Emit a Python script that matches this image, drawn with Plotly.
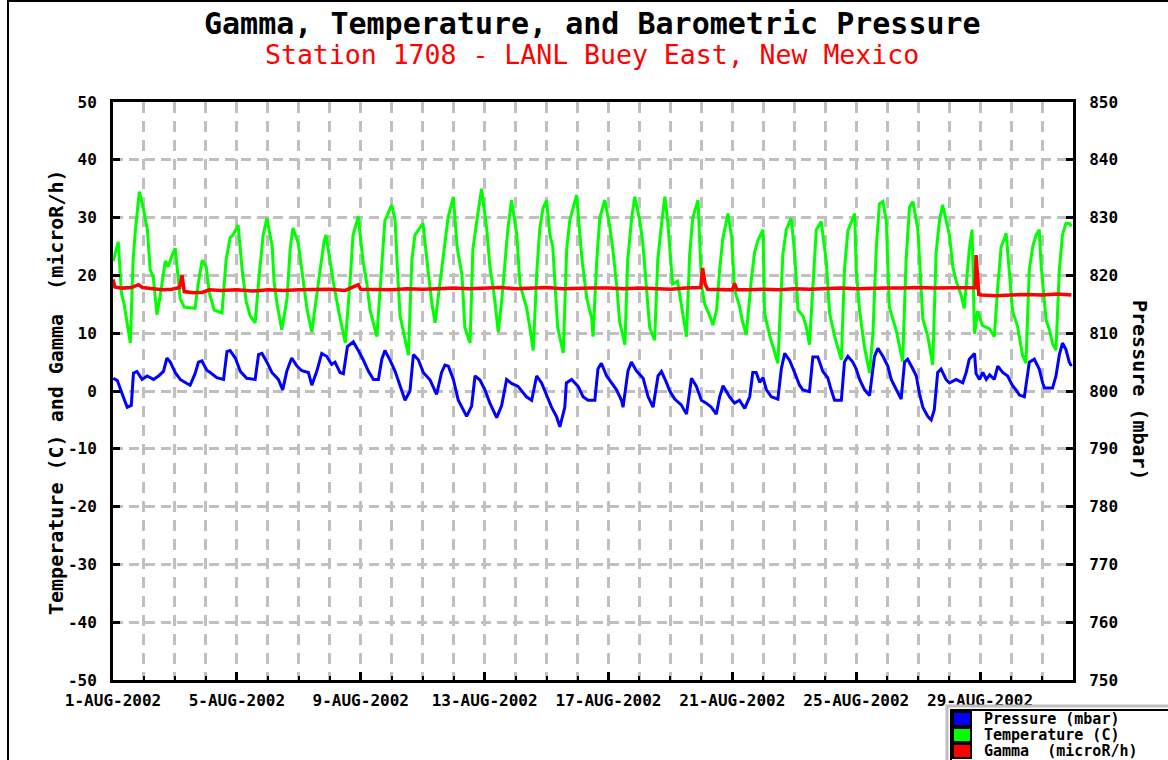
import pandas as pd
import plotly.graph_objects as go

# ---------------- data (day offsets from 1-AUG-2002 00:00) ----------------
temp_day = [0.01, 0.17, 0.27, 0.36, 0.56, 0.65, 0.72, 0.85, 0.98, 1.11, 1.20, 1.30, 1.42, 1.52, 1.69, 1.78,
            1.91, 2.01, 2.07, 2.17, 2.30, 2.65, 2.75, 2.88, 3.01, 3.11, 3.27, 3.52, 3.65, 3.78, 3.88, 4.04,
            4.17, 4.30, 4.43, 4.59, 4.72, 4.85, 4.97, 5.14, 5.20, 5.30, 5.45, 5.62, 5.72, 5.81, 5.98, 6.11,
            6.27, 6.42, 6.59, 6.69, 6.82, 6.88, 6.98, 7.11, 7.30, 7.50, 7.66, 7.75, 7.92, 8.07, 8.20, 8.30,
            8.52, 8.69, 8.78, 9.00, 9.11, 9.17, 9.27, 9.54, 9.65, 9.75, 10.01, 10.17, 10.30, 10.40, 10.62,
            10.72, 10.82, 10.99, 11.11, 11.27, 11.36, 11.53, 11.59, 11.62, 11.75, 11.90, 12.07, 12.17, 12.30,
            12.44, 12.56, 12.65, 12.75, 12.87, 13.04, 13.14, 13.36, 13.46, 13.57, 13.69, 13.78, 13.88, 14.00,
            14.11, 14.20, 14.27, 14.36, 14.54, 14.65, 14.75, 14.97, 15.14, 15.30, 15.46, 15.50, 15.62, 15.72,
            15.88, 16.04, 16.14, 16.27, 16.36, 16.53, 16.62, 16.75, 16.85, 17.01, 17.11, 17.24, 17.33, 17.49,
            17.59, 17.72, 17.82, 17.91, 18.07, 18.23, 18.40, 18.52, 18.62, 18.72, 18.89, 19.01, 19.11, 19.27,
            19.37, 19.49, 19.59, 19.69, 19.86, 19.98, 20.07, 20.23, 20.33, 20.45, 20.62, 20.72, 20.82, 20.99,
            21.04, 21.20, 21.47, 21.58, 21.63, 21.74, 21.90, 22.01, 22.12, 22.28, 22.39, 22.49, 22.60, 22.71,
            22.87, 23.03, 23.14, 23.30, 23.52, 23.62, 23.73, 23.95, 24.00, 24.11, 24.27, 24.43, 24.54, 24.65,
            24.75, 24.86, 24.97, 25.07, 25.29, 25.50, 25.61, 25.72, 25.83, 25.99, 26.15, 26.31, 26.47, 26.58,
            26.69, 26.79, 27.01, 27.12, 27.23, 27.39, 27.49, 27.65, 27.74, 27.82, 27.92, 28.08, 28.30, 28.46,
            28.57, 28.68, 28.78, 28.84, 29.05, 29.21, 29.37, 29.48, 29.59, 29.70, 29.81, 29.91, 29.97, 30.13,
            30.24, 30.34, 30.45, 30.56, 30.66, 30.77, 30.88, 30.95]
temp_c = [22.5, 25.8, 17.0, 15.0, 8.3, 22.6, 27.7, 34.5, 31.5, 28.0, 21.0, 19.7, 13.2, 16.3, 22.5, 21.5,
          23.5, 24.7, 21.5, 16.0, 14.5, 14.3, 18.5, 22.6, 21.5, 17.0, 14.0, 13.5, 22.6, 26.5, 27.0, 28.7,
          21.0, 15.5, 13.0, 11.8, 20.0, 27.0, 29.9, 25.0, 19.0, 15.0, 10.6, 16.0, 24.5, 28.2, 25.6, 20.5,
          14.0, 10.2, 16.5, 21.0, 26.0, 27.0, 23.5, 19.0, 13.5, 8.3, 19.3, 26.9, 30.2, 22.6, 18.5, 14.0,
          9.4, 23.6, 29.5, 32.2, 29.5, 22.6, 13.0, 6.2, 22.6, 27.0, 29.0, 21.0, 15.0, 11.8, 21.0,
          25.5, 30.0, 33.6, 25.0, 20.0, 11.0, 8.3, 18.0, 24.5, 29.5, 35.0, 28.0, 21.5, 17.0,
          10.2, 16.0, 22.5, 28.0, 33.0, 27.0, 18.5, 14.3, 11.0, 7.0, 21.0, 28.0, 31.5, 33.0,
          27.0, 25.0, 18.8, 11.0, 6.6, 24.5, 29.5, 33.9, 23.0, 16.0, 12.5, 9.4, 22.4, 30.0,
          33.0, 28.5, 24.5, 18.0, 12.0, 8.0, 22.6, 30.0, 33.6, 29.5, 25.5, 16.5, 11.0, 8.8,
          22.6, 29.2, 33.6, 29.5, 18.5, 19.0, 13.5, 9.4, 23.5, 29.9, 33.0, 18.0, 15.0, 13.0,
          11.4, 14.0, 21.0, 26.3, 30.7, 26.5, 17.5, 14.7, 12.0, 9.7, 19.7, 24.0, 26.0, 27.9,
          13.5, 9.7, 4.8, 19.3, 23.5, 27.9, 29.9, 24.0, 14.0, 13.0, 11.0, 8.0, 19.0, 27.9,
          29.3, 22.5, 13.5, 9.5, 5.4, 21.0, 27.7, 30.7, 21.0, 13.8, 7.5, 3.1, 10.0, 25.0,
          32.4, 32.8, 29.5, 14.5, 10.5, 5.1, 22.6, 31.8, 32.8, 28.0, 12.5, 9.5, 4.5, 24.0,
          29.5, 32.2, 27.0, 21.5, 19.0, 16.5, 14.3, 24.5, 27.9, 9.9, 13.8, 11.3, 10.8, 9.4,
          18.0, 25.0, 26.3, 27.3, 13.8, 11.2, 6.2, 4.8, 21.0, 25.0, 27.0, 27.9, 21.8, 12.3,
          10.6, 8.2, 7.1, 21.0, 27.0, 29.0, 29.0, 28.5]

pres_day = [0.01, 0.14, 0.33, 0.46, 0.59, 0.66, 0.77, 0.94, 1.10, 1.31, 1.47, 1.63, 1.74, 1.85, 2.01, 2.17,
            2.39, 2.49, 2.65, 2.76, 2.87, 3.03, 3.14, 3.35, 3.57, 3.68, 3.78, 3.95, 4.11, 4.32, 4.59, 4.70,
            4.81, 4.97, 5.13, 5.34, 5.48, 5.61, 5.77, 5.94, 6.10, 6.31, 6.42, 6.58, 6.74, 6.90, 7.06, 7.17,
            7.33, 7.44, 7.57, 7.76, 7.92, 8.08, 8.25, 8.41, 8.57, 8.68, 8.78, 8.95, 9.11, 9.27, 9.43, 9.59,
            9.70, 9.86, 10.02, 10.24, 10.45, 10.61, 10.72, 10.83, 10.99, 11.15, 11.26, 11.42, 11.58, 11.69,
            11.85, 12.01, 12.17, 12.39, 12.55, 12.71, 12.87, 13.08, 13.35, 13.52, 13.68, 13.84, 14.00, 14.16,
            14.32, 14.43, 14.59, 14.64, 14.81, 15.02, 15.18, 15.34, 15.56, 15.66, 15.77, 15.94, 16.10, 16.26,
            16.42, 16.47, 16.63, 16.74, 16.90, 17.12, 17.28, 17.44, 17.60, 17.71, 17.87, 17.98, 18.14, 18.35,
            18.52, 18.68, 18.84, 19.00, 19.16, 19.32, 19.48, 19.59, 19.70, 19.91, 20.07, 20.23, 20.40, 20.56,
            20.66, 20.77, 20.88, 20.99, 21.10, 21.26, 21.47, 21.58, 21.69, 21.85, 22.01, 22.17, 22.28, 22.49,
            22.60, 22.76, 22.92, 23.08, 23.19, 23.30, 23.52, 23.62, 23.73, 23.89, 24.00, 24.11, 24.27, 24.43,
            24.59, 24.70, 24.86, 25.02, 25.13, 25.29, 25.45, 25.56, 25.66, 25.83, 25.94, 26.04, 26.15, 26.31,
            26.42, 26.52, 26.63, 26.74, 26.90, 27.01, 27.23, 27.44, 27.55, 27.65, 27.82, 27.87, 27.98, 28.09,
            28.20, 28.31, 28.46, 28.57, 28.73, 28.89, 29.05, 29.16, 29.27, 29.43, 29.54, 29.59, 29.75, 29.91,
            30.02, 30.08, 30.34, 30.45, 30.56, 30.66, 30.77, 30.88, 30.95]
pres_mbar = [802.2, 801.8, 799.0, 797.2, 797.5, 803.1, 803.4, 802.0, 802.6, 802.0, 802.6, 803.4, 805.7, 805.0,
             803.2, 802.0, 801.3, 801.0, 803.0, 805.0, 805.2, 803.6, 803.2, 802.3, 802.0, 806.8, 807.0, 805.7,
             803.4, 802.2, 802.0, 806.3, 806.5, 805.0, 803.2, 802.0, 800.2, 803.4, 805.7, 804.3, 803.5, 803.2,
             801.0, 803.4, 806.5, 806.0, 804.6, 805.0, 803.2, 803.0, 807.7, 808.5, 807.0, 805.4, 803.4, 802.0,
             802.0, 805.5, 807.0, 805.3, 803.4, 801.0, 798.4, 800.0, 806.3, 805.4, 803.2, 801.9, 799.4, 803.2,
             804.5, 804.3, 802.0, 798.4, 797.2, 795.6, 797.4, 802.6, 801.9, 800.2, 797.9, 795.4, 797.5, 802.0,
             801.3, 800.8, 799.0, 798.4, 802.6, 801.4, 799.3, 797.2, 795.6, 793.8, 797.2, 801.4, 802.0, 800.8,
             799.0, 798.4, 798.4, 803.8, 804.8, 802.6, 801.4, 800.2, 798.4, 797.2, 803.5, 805.0, 803.5, 802.2,
             799.0, 797.2, 802.6, 803.4, 801.5, 800.0, 798.6, 797.6, 796.0, 802.2, 800.8, 798.4, 797.9, 797.2,
             796.0, 799.0, 800.9, 799.0, 797.9, 798.4, 797.0, 799.0, 803.2, 803.2, 801.5, 802.3, 800.2, 799.0,
             798.6, 803.8, 806.5, 805.3, 803.2, 801.0, 800.2, 799.9, 805.9, 805.9, 803.4, 802.3, 800.2, 798.4,
             798.4, 805.0, 806.0, 805.0, 803.8, 802.0, 800.2, 799.2, 806.0, 807.4, 806.0, 804.3, 802.0, 800.2,
             798.6, 805.0, 805.5, 803.8, 802.6, 799.6, 797.2, 795.6, 795.0, 796.7, 803.2, 803.8, 802.0, 801.4,
             802.0, 801.4, 803.2, 805.5, 806.5, 803.0, 802.0, 803.2, 802.0, 802.8, 802.0, 804.3, 803.2, 802.6,
             800.9, 800.2, 799.3, 799.0, 802.6, 805.0, 805.5, 803.8, 801.4, 800.5, 800.5, 802.6, 806.3, 808.3,
             807.2, 805.0, 804.3]

gam_day = [0.00, 0.06, 0.30, 0.60, 0.82, 0.95, 1.30, 1.60, 1.90, 2.15, 2.23, 2.30, 2.60, 2.90, 3.10, 3.50,
           4.00, 4.50, 5.00, 5.50, 6.00, 6.50, 7.00, 7.50, 7.92, 8.00, 8.50, 9.00, 9.50, 10.00, 10.50, 11.00,
           11.50, 12.00, 12.50, 13.00, 13.50, 14.00, 14.50, 15.00, 15.50, 16.00, 16.50, 17.00, 17.50, 18.00,
           18.50, 18.98, 19.04, 19.12, 19.20, 19.50, 20.00, 20.07, 20.15, 20.50, 21.00, 21.50, 22.00, 22.50,
           23.00, 23.50, 24.00, 24.50, 25.00, 25.50, 26.00, 26.50, 27.00, 27.50, 27.84, 27.87, 27.91, 27.96,
           28.05, 28.50, 29.00, 29.50, 30.00, 30.50, 30.95]
gam_urh = [19.3, 18.0, 17.8, 17.9, 18.4, 17.9, 17.7, 17.5, 17.6, 17.9, 20.0, 17.2, 17.0, 17.1, 17.5, 17.4,
           17.5, 17.3, 17.5, 17.4, 17.5, 17.5, 17.6, 17.4, 18.4, 17.6, 17.6, 17.5, 17.7, 17.6, 17.7, 17.8,
           17.7, 17.8, 17.9, 17.7, 17.8, 17.9, 17.7, 17.8, 17.8, 17.8, 17.7, 17.8, 17.7, 17.6,
           17.8, 17.9, 21.3, 18.5, 17.6, 17.6, 17.5, 18.6, 17.5, 17.5, 17.6, 17.5, 17.7, 17.6,
           17.7, 17.8, 17.7, 17.8, 17.8, 17.8, 17.9, 17.8, 17.8, 17.8, 17.9, 23.5, 19.5, 16.7,
           16.6, 16.5, 16.6, 16.7, 16.6, 16.8, 16.6]

start = pd.Timestamp("2002-08-01")
label_days = [0, 4, 8, 12, 16, 20, 24, 28]
label_text = ["1-AUG-2002", "5-AUG-2002", "9-AUG-2002", "13-AUG-2002", "17-AUG-2002",
              "21-AUG-2002", "25-AUG-2002", "29-AUG-2002"]
left_ticks = [-50, -40, -30, -20, -10, 0, 10, 20, 30, 40, 50]
right_ticks = [750, 760, 770, 780, 790, 800, 810, 820, 830, 840, 850]


def to_dt(days):
    return [start + pd.Timedelta(days=d) for d in days]


# ---------------- layout geometry helpers (decorations only) ----------------
W, H = 1168, 760
L, R, T, B = 113, 1073, 102, 680


def px(x):
    return (x - L) / (R - L)


def py(y):
    return (B - y) / (B - T)


FONT = "DejaVu Sans Mono"
GRID = "#C0C0C0"

fig = go.Figure()
fig.add_trace(go.Scatter(x=to_dt(temp_day), y=temp_c, mode="lines", name="Temperature (C)",
                         line=dict(color="#00FF00", width=3), yaxis="y"))
fig.add_trace(go.Scatter(x=to_dt(gam_day), y=gam_urh, mode="lines", name="Gamma  (microR/h)",
                         line=dict(color="#FF0000", width=3.5), yaxis="y"))
fig.add_trace(go.Scatter(x=to_dt(pres_day), y=pres_mbar, mode="lines", name="Pressure (mbar)",
                         line=dict(color="#0000FF", width=3), yaxis="y2"))

fig.update_layout(
    width=W, height=H,
    margin=dict(l=L, r=W - R, t=T, b=H - B, pad=0),
    paper_bgcolor="white", plot_bgcolor="white",
    showlegend=False,
    font=dict(family=FONT, color="black"),
    xaxis=dict(
        type="date",
        range=[start, start + pd.Timedelta(days=31)],
        tickvals=to_dt(label_days), ticktext=label_text,
        ticks="inside", ticklen=8, tickwidth=3, tickcolor="black",
        tickfont=dict(family=FONT, size=16, weight="bold"),
        showgrid=True, gridcolor=GRID, gridwidth=3, griddash="11px,8px",
        minor=dict(dtick=86400000, tick0=start, ticks="inside", ticklen=4, tickwidth=2,
                   tickcolor="black", showgrid=True, gridcolor=GRID, gridwidth=3,
                   griddash="11px,8px"),
        showline=True, linecolor="black", linewidth=3, mirror=True,
        zeroline=False, ticklabelstandoff=4,
    ),
    yaxis=dict(
        range=[-50, 50], tickvals=left_ticks, ticktext=[str(v) for v in left_ticks],
        ticks="inside", ticklen=7, tickwidth=3, tickcolor="black",
        tickfont=dict(family=FONT, size=16, weight="bold"),
        showgrid=True, gridcolor=GRID, gridwidth=3, griddash="10px,6px",
        showline=True, linecolor="black", linewidth=3, mirror=True,
        zeroline=False, ticklabelstandoff=10,
    ),
    yaxis2=dict(
        range=[750, 850], tickvals=right_ticks, ticktext=[str(v) for v in right_ticks],
        overlaying="y", side="right",
        ticks="inside", ticklen=7, tickwidth=3, tickcolor="black",
        tickfont=dict(family=FONT, size=16, weight="bold"),
        showgrid=False, showline=True, linecolor="black", linewidth=3,
        zeroline=False, ticklabelstandoff=10,
    ),
)

annotations = [
    dict(text="Gamma, Temperature, and Barometric Pressure", x=px(592), y=py(23),
         font=dict(family=FONT, size=30, weight="bold", color="black")),
    dict(text="Station 1708 - LANL Buey East, New Mexico", x=px(592), y=py(55),
         font=dict(family=FONT, size=26.5, color="#FF0000")),
    dict(text="Temperature (C) and Gamma\u00a0 (microR/h)", x=px(56), y=py(392), textangle=-90,
         font=dict(family=FONT, size=20, weight="bold", color="black")),
    dict(text="Pressure (mbar)", x=px(1140), y=py(390), textangle=90,
         font=dict(family=FONT, size=20, weight="bold", color="black")),
]
legend_rows = [("Pressure (mbar)", "#0000FF", 719), ("Temperature (C)", "#00FF00", 735),
               ("Gamma\u00a0 (microR/h)", "#FF0000", 751)]
shapes = [
    # outer page frame (left and top)
    dict(type="line", x0=px(8), x1=px(8), y0=py(0), y1=py(760), line=dict(color="black", width=2)),
    dict(type="line", x0=px(8), x1=px(1168), y0=py(1), y1=py(1), line=dict(color="black", width=2)),
    # legend boxes
    dict(type="rect", x0=px(947), x1=px(1170), y0=py(706), y1=py(762), line=dict(color="#BEBEBE", width=3),
         fillcolor="white"),
    dict(type="rect", x0=px(951), x1=px(1170), y0=py(710), y1=py(762), line=dict(color="black", width=2),
         fillcolor="white"),
]
for text, color, yc in legend_rows:
    shapes.append(dict(type="rect", x0=px(953), x1=px(971), y0=py(yc - 7), y1=py(yc + 7),
                       line=dict(color="black", width=2), fillcolor=color))
    annotations.append(dict(text=text, x=px(982), y=py(yc), xanchor="left",
                            font=dict(family=FONT, size=15, weight="bold", color="black")))
for s in shapes:
    s.update(xref="paper", yref="paper", layer="above")
for a in annotations:
    a.update(xref="paper", yref="paper", showarrow=False)
    a.setdefault("xanchor", "center")
    a.setdefault("yanchor", "middle")
fig.update_layout(annotations=annotations, shapes=shapes)

fig.write_html("out.html", config={"displayModeBar": False},
               post_script="document.body.style.margin='0';document.body.style.overflow='hidden';")
